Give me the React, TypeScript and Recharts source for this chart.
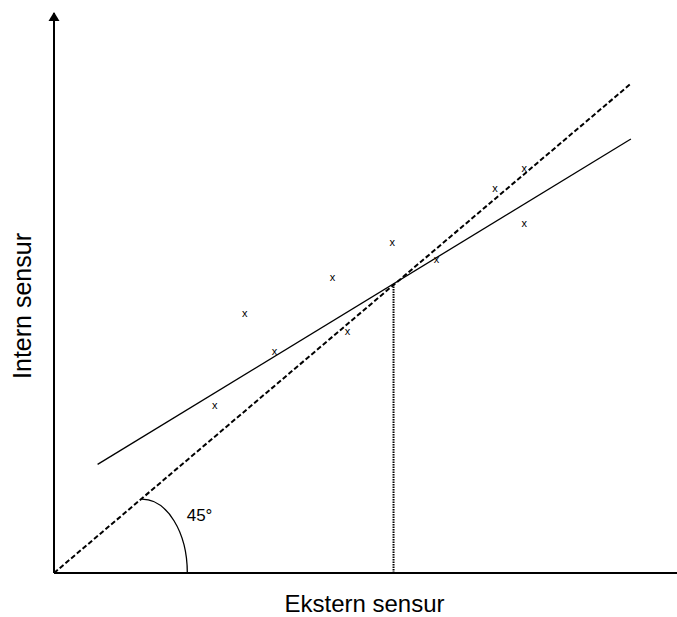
import React from "react";
import {
  ScatterChart,
  Scatter,
  XAxis,
  YAxis,
  ReferenceDot,
  Label,
} from "recharts";

// measured samples (ekstern vs intern)
const sampleX = [2.58, 3.06, 3.54, 4.47, 4.71, 5.43, 6.14, 7.08, 7.55, 7.55];
const sampleY = [2.99, 4.63, 3.95, 5.26, 4.3, 5.89, 5.59, 6.85, 7.21, 6.23];

// fitted regression line
const fitX = [0.7, 9.26];
const fitY = [1.94, 7.75];

// 45 degree reference line
const diagX = [0, 9.25];
const diagY = [0, 8.73];

// drop from the crossing point to the x axis
const dropX = [5.45, 5.45];
const dropY = [0, 5.15];

// angle marker: centre on x axis, radii in data units
const arcCentre = { x: 1.41, y: 0 };
const arcRadius = { x: 0.73, y: 1.32 };
const angleText = "45°";
const angleTextPos = { x: 2.13, y: 0.93 };

const xTitle = "Ekstern sensur";
const yTitle = "Intern sensur";

const X_MAX = 10;
const Y_MAX = 10;

const W = 677;
const H = 617;
const MARGIN = { top: 13, right: 0, bottom: 0, left: 0 };
const Y_AXIS_W = 54;
const X_AXIS_H = 44;
const PLOT_W = W - Y_AXIS_W - MARGIN.left - MARGIN.right;
const PLOT_H = H - X_AXIS_H - MARGIN.top - MARGIN.bottom;

const FONT = "'Liberation Sans', Arial, sans-serif";

const zip = (xs: number[], ys: number[]) => xs.map((x, i) => ({ x, y: ys[i] }));

const samples = zip(sampleX, sampleY);
const fit = zip(fitX, fitY);
const diag = zip(diagX, diagY);
const drop = zip(dropX, dropY);

const NoDot = () => <g />;

const CrossMark = (props: any) => {
  const { cx, cy } = props;
  return (
    <text
      x={cx}
      y={cy + 3}
      textAnchor="middle"
      fontFamily={FONT}
      fontSize={11}
      fill="#000"
    >
      x
    </text>
  );
};

const Arrow = (props: any) => {
  const { cx, cy } = props;
  return (
    <path
      d={`M${cx},${cy - 1} L${cx + 5.5},${cy + 8} L${cx - 5.5},${cy + 8} Z`}
      fill="#000"
    />
  );
};

const AngleArc = (props: any) => {
  const { cx, cy } = props;
  const rx = (arcRadius.x * PLOT_W) / X_MAX;
  const ry = (arcRadius.y * PLOT_H) / Y_MAX;
  return (
    <path
      d={`M${cx},${cy - ry} A${rx},${ry} 0 0 1 ${cx + rx},${cy}`}
      fill="none"
      stroke="#000"
      strokeWidth={1.3}
    />
  );
};

const AngleLabel = (props: any) => {
  const { cx, cy } = props;
  return (
    <text x={cx} y={cy} fontFamily={FONT} fontSize={17} fill="#000">
      {angleText}
    </text>
  );
};

const XTitle = (props: any) => {
  const vb = props.viewBox;
  return (
    <text
      x={vb.x + vb.width / 2 - 1}
      y={vb.y + 39}
      textAnchor="middle"
      fontFamily={FONT}
      fontSize={24}
      fill="#000"
    >
      {xTitle}
    </text>
  );
};

const YTitle = (props: any) => {
  const vb = props.viewBox;
  const x = vb.x + 31;
  const y = vb.y + vb.height / 2 + 13;
  return (
    <text
      x={x}
      y={y}
      textAnchor="middle"
      transform={`rotate(-90, ${x}, ${y})`}
      fontFamily={FONT}
      fontSize={25}
      fill="#000"
    >
      {yTitle}
    </text>
  );
};

export default function App() {
  return (
    <div style={{ width: W, height: H, background: "#fff" }}>
      <style>{"body{margin:0}"}</style>
      <ScatterChart width={W} height={H} margin={MARGIN}>
        <XAxis
          type="number"
          dataKey="x"
          domain={[0, X_MAX]}
          allowDataOverflow
          height={X_AXIS_H}
          tick={false}
          tickLine={false}
          axisLine={{ stroke: "#000", strokeWidth: 2 }}
        >
          <Label content={<XTitle />} />
        </XAxis>
        <YAxis
          type="number"
          dataKey="y"
          domain={[0, Y_MAX]}
          allowDataOverflow
          width={Y_AXIS_W}
          tick={false}
          tickLine={false}
          axisLine={{ stroke: "#000", strokeWidth: 2 }}
        >
          <Label content={<YTitle />} />
        </YAxis>

        <Scatter
          data={diag}
          line={{ stroke: "#000", strokeWidth: 2, strokeDasharray: "5 2.5" }}
          shape={NoDot}
          isAnimationActive={false}
        />
        <Scatter
          data={fit}
          line={{ stroke: "#000", strokeWidth: 1.3 }}
          shape={NoDot}
          isAnimationActive={false}
        />
        <Scatter
          data={drop}
          line={{ stroke: "#000", strokeWidth: 2, strokeDasharray: "1.5 1" }}
          shape={NoDot}
          isAnimationActive={false}
        />
        <Scatter data={samples} shape={CrossMark} isAnimationActive={false} />

        <ReferenceDot x={arcCentre.x} y={arcCentre.y} shape={AngleArc} ifOverflow="visible" />
        <ReferenceDot
          x={angleTextPos.x}
          y={angleTextPos.y}
          shape={AngleLabel}
          ifOverflow="visible"
        />
        <ReferenceDot x={0} y={Y_MAX} shape={Arrow} ifOverflow="visible" />
      </ScatterChart>
    </div>
  );
}
